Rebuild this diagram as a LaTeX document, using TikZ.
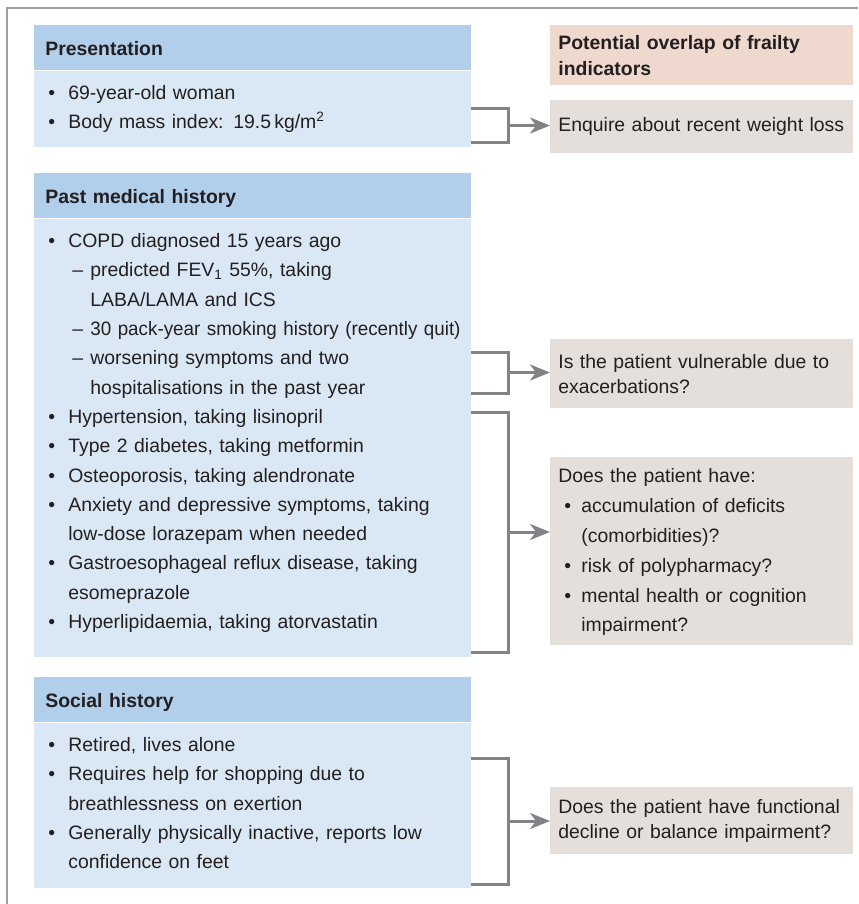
\documentclass[tikz,border=0pt]{standalone}
\usepackage{fontspec}
\setmainfont{Liberation Sans}
\usepackage{tikz}
\usetikzlibrary{arrows.meta,positioning}
\definecolor{hdblue}{HTML}{B1CFEB}
\definecolor{bdblue}{HTML}{DAE8F5}
\definecolor{pinkhd}{HTML}{EFD8CD}
\definecolor{qgrey}{HTML}{E4DFDB}
\definecolor{brkgrey}{HTML}{838387}
\definecolor{ink}{HTML}{231F20}
\definecolor{framegrey}{HTML}{A0A0A0}
\newcommand\fbul{\noindent\strut\makebox[10pt][l]{\textbullet}}
\newcommand\bul{\par\fbul}
\newcommand\dsh{\par\noindent\strut\hspace*{12pt}\makebox[9pt][l]{\textendash}}
\newcommand\cnt[1][10pt]{\par\noindent\strut\hspace*{#1}}
\newcommand\qbul{\par\noindent\strut\hspace*{3pt}\makebox[8.5pt][l]{\textbullet}}
\tikzset{
  hdr/.style={fill=hdblue,anchor=north west,inner xsep=5.5pt,inner ysep=0pt,
    text width=207.5pt,minimum width=218.5pt,minimum height=22.5pt,align=left,
    text height=8pt,text depth=0.5pt,font=\fontsize{9.7}{14.65}\selectfont\bfseries},
  bdy/.style={fill=bdblue,inner xsep=7pt,inner ysep=0pt,text width=204.5pt,
    minimum width=218.5pt,align=left,text height=14.2pt,
    font=\fontsize{9.7}{14.65}\selectfont},
  qbox/.style={fill=qgrey,anchor=north west,inner xsep=4pt,inner ysep=0pt,
    text width=143.5pt,minimum width=151.5pt,align=left,
    font=\fontsize{9.7}{12.5}\selectfont},
  brk/.style={draw=brkgrey,line width=1.5pt},
  arr/.style={draw=brkgrey,line width=1.5pt,
    -{Stealth[length=10pt,width=8pt,inset=3pt]}},
  frm/.style={draw=framegrey,line width=0.6pt},
}
\begin{document}
\begin{tikzpicture}[x=0.5pt,y=-0.5pt,text=ink]
  \useasboundingbox (0,0) rectangle (858,904);
  \draw[frm] (858,8) -- (7,8) -- (7,904);

  \node[hdr] (preshd) at (34,25) {Presentation};
  \node[bdy,text depth=23.8pt] (pres) [below=0pt of preshd]
    {\fbul 69-year-old woman
     \bul Body mass index: 19.5\,kg/m\textsuperscript{2}};

  \node[hdr] (pmhhd) at (34,173) {Past medical history};
  \node[bdy,text depth=204.55pt] (pmh) [below=0pt of pmhhd]
    {\fbul COPD diagnosed 15 years ago
     \dsh predicted FEV\textsubscript{1} 55\%, taking
     \cnt[21pt]LABA/LAMA and ICS
     \dsh \mbox{\addfontfeature{FakeStretch=0.97}30 pack-year smoking history (recently quit)}
     \dsh worsening symptoms and two
     \cnt[21pt]hospitalisations in the past year
     \bul Hypertension, taking lisinopril
     \bul Type 2 diabetes, taking metformin
     \bul Osteoporosis, taking alendronate
     \bul Anxiety and depressive symptoms, taking
     \cnt low-dose lorazepam when needed
     \bul Gastroesophageal reflux disease, taking
     \cnt esomeprazole
     \bul Hyperlipidaemia, taking atorvastatin};

  \node[hdr] (sochd) at (34,677) {Social history};
  \node[bdy,text depth=68.05pt] (soc) [below=0pt of sochd]
    {\fbul Retired, lives alone
     \bul Requires help for shopping due to
     \cnt breathlessness on exertion
     \bul Generally physically inactive, reports low
     \cnt confidence on feet};

  \node[qbox,fill=pinkhd,minimum height=30pt,
    font=\fontsize{9.7}{13}\selectfont\bfseries] (frail) at (550,25)
    {Potential overlap of frailty\\indicators};
  \node[qbox,minimum height=26.5pt] (q1) at (550,100)
    {Enquire about recent weight loss};
  \node[qbox,minimum height=34.5pt] (q2) at (550,339)
    {Is the patient vulnerable due to\\exacerbations?};
  \node[qbox,minimum height=94pt,font=\fontsize{9.7}{14.9}\selectfont] (q3) at (550,457)
    {\noindent\strut Does the patient have:
     \qbul accumulation of deficits
     \cnt[11.5pt](comorbidities)?
     \qbul risk of polypharmacy?
     \qbul mental health or cognition
     \cnt[11.5pt]impairment?};
  \node[qbox,minimum height=33.5pt] (q4) at (550,787)
    {Does the patient have functional\\decline or balance impairment?};

  \coordinate (t1) at (471,109); \coordinate (b1) at (471,142); \coordinate (m1) at (508,125.5);
  \coordinate (t2) at (471,352); \coordinate (b2) at (471,393); \coordinate (m2) at (508,372.5);
  \coordinate (t3) at (471,412); \coordinate (b3) at (471,652); \coordinate (m3) at (508,532);
  \coordinate (t4) at (471,758); \coordinate (b4) at (471,884); \coordinate (m4) at (508,821);
  \draw[brk] (t1) -| (m1) |- (b1);
  \draw[brk] (t2) -| (m2) |- (b2);
  \draw[brk] (t3) -| (m3) |- (b3);
  \draw[brk] (t4) -| (m4) |- (b4);
  \draw[arr] (m1) -- (q1.west |- m1);
  \draw[arr] (m2) -- (q2.west |- m2);
  \draw[arr] (m3) -- (q3.west |- m3);
  \draw[arr] (m4) -- (q4.west |- m4);
\end{tikzpicture}
\end{document}
